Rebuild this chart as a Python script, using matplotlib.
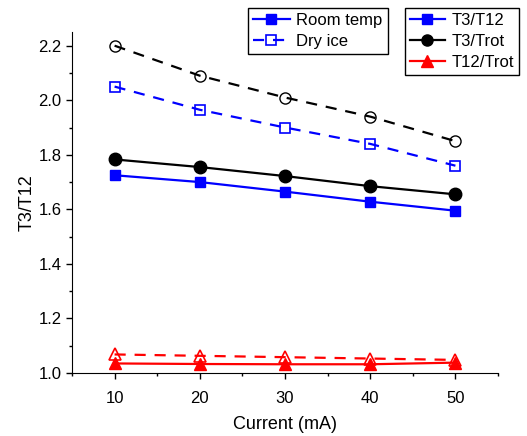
import numpy as np
import matplotlib
matplotlib.use('Agg')
import matplotlib.pyplot as plt
from matplotlib.lines import Line2D
from matplotlib.ticker import MultipleLocator

plt.rcParams['font.family'] = ['Liberation Sans', 'DejaVu Sans']
plt.rcParams['font.size'] = 12

# data
current = [10, 20, 30, 40, 50]
t3_t12_room = [1.725, 1.700, 1.665, 1.628, 1.595]
t3_t12_dry = [2.050, 1.965, 1.900, 1.840, 1.760]
t3_trot_room = [1.783, 1.755, 1.722, 1.685, 1.655]
t3_trot_dry = [2.200, 2.090, 2.010, 1.940, 1.850]
t12_trot_room = [1.035, 1.033, 1.032, 1.032, 1.038]
t12_trot_dry = [1.068, 1.063, 1.058, 1.053, 1.048]

fig = plt.figure(figsize=(5.27, 4.36), dpi=100)
ax = fig.add_axes([0.1366, 0.1445, 0.8084, 0.782])

dash = (0, (5, 4))
lw = 1.6

# room temperature (solid, filled)
ax.plot(current, t3_t12_room, color='blue', lw=lw, marker='s', ms=7, mfc='blue', mec='blue')
ax.plot(current, t3_trot_room, color='black', lw=lw, marker='o', ms=9, mfc='black', mec='black')
ax.plot(current, t12_trot_room, color='red', lw=lw, marker='^', ms=9, mfc='red', mec='red')

# dry ice (dashed, open)
ax.plot(current, t3_t12_dry, color='blue', lw=lw, ls=dash, marker='s', ms=7, mfc='none', mec='blue', mew=1.2)
ax.plot(current, t3_trot_dry, color='black', lw=lw, ls=dash, marker='o', ms=8, mfc='none', mec='black', mew=1.0)
ax.plot(current, t12_trot_dry, color='red', lw=lw, ls=dash, marker='^', ms=9, mfc='none', mec='red', mew=1.2)

ax.set_xlim(5, 55)
ax.set_ylim(1.0, 2.25)
ax.xaxis.set_major_locator(MultipleLocator(10))
ax.xaxis.set_minor_locator(MultipleLocator(5))
ax.yaxis.set_major_locator(MultipleLocator(0.2))
ax.yaxis.set_minor_locator(MultipleLocator(0.1))
ax.yaxis.set_major_formatter(matplotlib.ticker.FormatStrFormatter('%.1f'))
ax.spines['top'].set_visible(False)
ax.spines['right'].set_visible(False)
ax.tick_params(which='major', direction='out', length=4, width=1)
ax.tick_params(axis='x', which='major', pad=9)
ax.tick_params(which='minor', direction='out', length=2.5, width=1)
ax.set_xlabel('Current (mA)', fontsize=13, labelpad=7)
ax.set_ylabel('T3/T12', fontsize=13, labelpad=2)

h1 = [Line2D([], [], color='blue', lw=lw, marker='s', ms=7),
      Line2D([], [], color='blue', lw=lw, ls=dash, marker='s', ms=7, mfc='none', mew=1.2)]
leg1 = fig.legend(h1, ['Room temp', 'Dry ice'], loc='upper left',
                  bbox_to_anchor=(0.4706, 0.982), bbox_transform=fig.transFigure,
                  fancybox=False, edgecolor='black', framealpha=1, borderaxespad=0,
                  handlelength=2.2, handletextpad=0.4, labelspacing=0.35, borderpad=0.3)
leg1.get_frame().set_linewidth(1)

h2 = [Line2D([], [], color='blue', lw=lw, marker='s', ms=7),
      Line2D([], [], color='black', lw=lw, marker='o', ms=8),
      Line2D([], [], color='red', lw=lw, marker='^', ms=8)]
leg2 = fig.legend(h2, ['T3/T12', 'T3/Trot', 'T12/Trot'], loc='upper left',
                  bbox_to_anchor=(0.7685, 0.982), bbox_transform=fig.transFigure,
                  fancybox=False, edgecolor='black', framealpha=1, borderaxespad=0,
                  handlelength=2.1, handletextpad=0.4, labelspacing=0.35, borderpad=0.3)
leg2.get_frame().set_linewidth(1)

fig.savefig('out.png', dpi=100)
